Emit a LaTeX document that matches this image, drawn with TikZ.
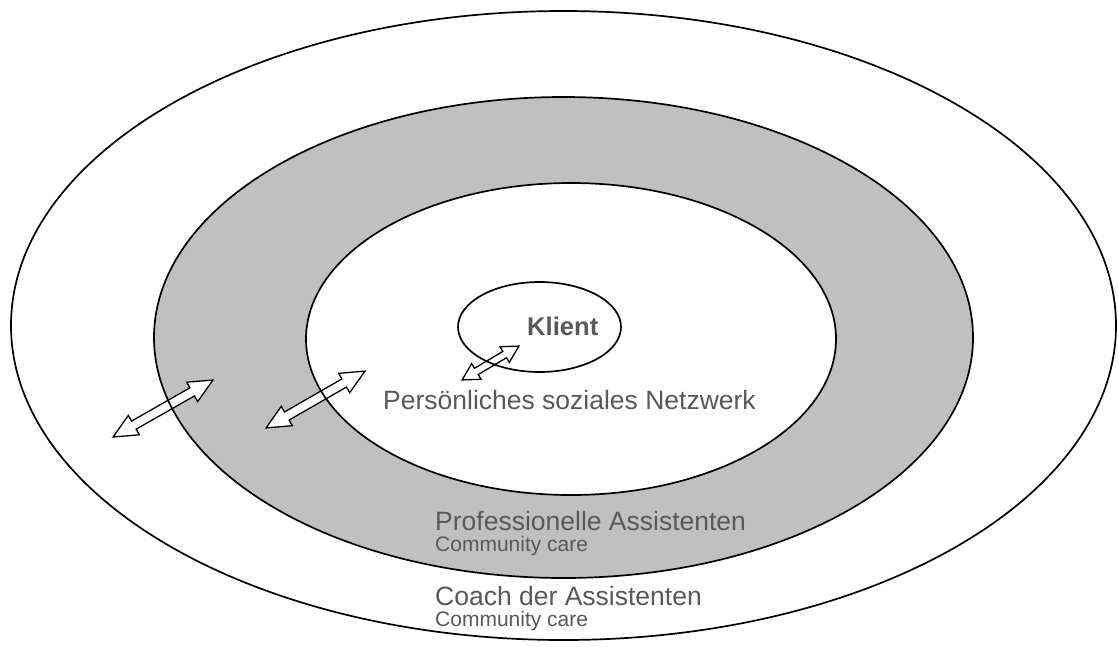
\documentclass[tikz,border=0pt]{standalone}
\usepackage{fontspec}
\setmainfont{Liberation Sans}
\usetikzlibrary{shapes.geometric,shapes.arrows}
\definecolor{ringgray}{HTML}{C0C0C0}
\definecolor{labelgray}{HTML}{595959}
\begin{document}
\begin{tikzpicture}[x=1pt,y=-1pt,
  ringline/.style={draw=black,line width=1.7pt},
  linkarrow/.style={double arrow,draw=black,fill=white,line width=1.3pt,
    inner sep=4pt,double arrow head extend=6.5pt,double arrow tip angle=50,
    minimum width=21pt,anchor=center},
  smallarrow/.style={linkarrow,inner sep=3pt,double arrow head extend=5.5pt,
    double arrow tip angle=58,minimum width=17pt},
  biglabel/.style={anchor=base west,inner sep=0pt,text=labelgray,
    font=\fontsize{26.5}{30}\selectfont},
  smalllabel/.style={anchor=base west,inner sep=0pt,text=labelgray,
    font=\fontsize{21}{24}\selectfont}]
\useasboundingbox (0,0) rectangle (1118,646);

% rings, from the outside in
\fill[white] (563.5,325.5) ellipse (552.5pt and 314.5pt);
\fill[ringgray] (563.5,337.5) ellipse (409.5pt and 240.5pt);
\fill[white] (571,339) ellipse (265pt and 156pt);
\fill[white] (539.5,327) ellipse (81.5pt and 45pt);

% two-way links between the rings
\node[linkarrow,minimum height=115pt,rotate=29.7] (link1) at (163,408.5) {};
\node[linkarrow,minimum height=114pt,rotate=29.9] (link2) at (315.5,399.5) {};
\node[smallarrow,minimum height=66pt,rotate=30.8] (link3) at (490.5,363) {};

% ring outlines on top of the arrows
\draw[ringline] (563.5,325.5) ellipse (552.5pt and 314.5pt);
\draw[ringline] (563.5,337.5) ellipse (409.5pt and 240.5pt);
\draw[ringline] (571,339) ellipse (265pt and 156pt);
\draw[ringline] (539.5,327) ellipse (81.5pt and 45pt);

% labels
\node[biglabel,font=\fontsize{25.6}{30}\selectfont\bfseries] (klient) at (527,335) {Klient};
\node[biglabel] (netz) at (383,409) {Persönliches soziales Netzwerk};
\node[biglabel] (prof) at (435,530) {Professionelle Assistenten};
\node[smalllabel] (care1) at (435,551) {Community care};
\node[biglabel] (coach) at (435,605) {Coach der Assistenten};
\node[smalllabel] (care2) at (435,626) {Community care};
\end{tikzpicture}
\end{document}
